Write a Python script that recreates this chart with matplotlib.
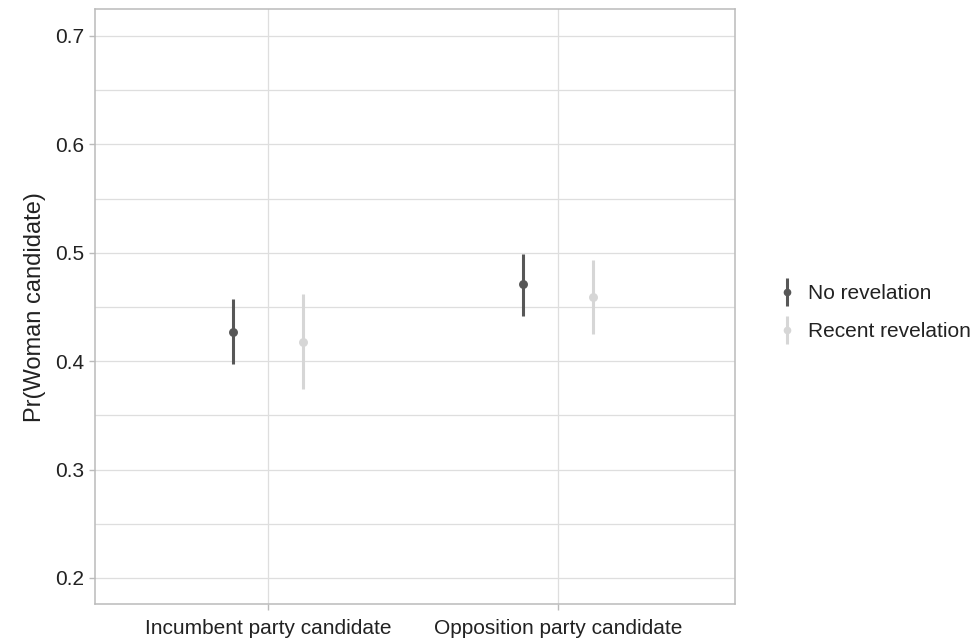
import numpy as np
import matplotlib.pyplot as plt
from matplotlib.lines import Line2D

plt.rcParams['font.family'] = ['Liberation Sans', 'DejaVu Sans']

categories = ["Incumbent party candidate", "Opposition party candidate"]
groups = ["No revelation", "Recent revelation"]
est = {"No revelation": [0.427, 0.471], "Recent revelation": [0.418, 0.459]}
lo = {"No revelation": [0.397, 0.442], "Recent revelation": [0.374, 0.425]}
hi = {"No revelation": [0.457, 0.499], "Recent revelation": [0.462, 0.493]}
colors = {"No revelation": "#575757", "Recent revelation": "#d6d6d6"}

fig = plt.figure(figsize=(9.74, 6.38), dpi=100)
ax = fig.add_axes([0.0975, 0.0533, 0.657, 0.932])

x = np.arange(len(categories))
dodge = [-0.121, 0.121]
handles = []
for g, d in zip(groups, dodge):
    xs = x + d
    ax.vlines(xs, lo[g], hi[g], color=colors[g], lw=2.2, zorder=3)
    ax.plot(xs, est[g], 'o', color=colors[g], ms=5.4, zorder=4)
    h1 = Line2D([], [], marker='|', ls='none', color=colors[g], ms=20, mew=2.2)
    h2 = Line2D([], [], marker='o', ls='none', color=colors[g], ms=4.5)
    handles.append((h1, h2))

ax.set_xlim(-0.597, 1.61)
ax.set_ylim(0.176, 0.7245)
ax.set_xticks(x)
ax.set_xticklabels(categories)
ax.set_yticks([0.2, 0.3, 0.4, 0.5, 0.6, 0.7])
ax.set_yticks([0.25, 0.35, 0.45, 0.55, 0.65], minor=True)
ax.grid(True, which='major', color='#dedede', lw=0.9)
ax.grid(True, which='minor', axis='y', color='#dedede', lw=0.9)
ax.tick_params(which='major', labelsize=15, colors='#bbbbbb', labelcolor='#222222', length=4.5, width=1)
ax.tick_params(axis='x', pad=6)
ax.tick_params(which='minor', length=0)
ax.set_axisbelow(True)
for s in ax.spines.values():
    s.set_color('#bbbbbb')
    s.set_linewidth(1.1)
ax.set_ylabel("Pr(Woman candidate)", fontsize=17, color='#222222', labelpad=6)

ax.legend(handles, groups, loc='center left', bbox_to_anchor=(1.036, 0.49), frameon=False,
          fontsize=15, handlelength=1.0, handletextpad=0.5, labelspacing=0.88, labelcolor='#222222')

fig.savefig("out.png", dpi=100)
